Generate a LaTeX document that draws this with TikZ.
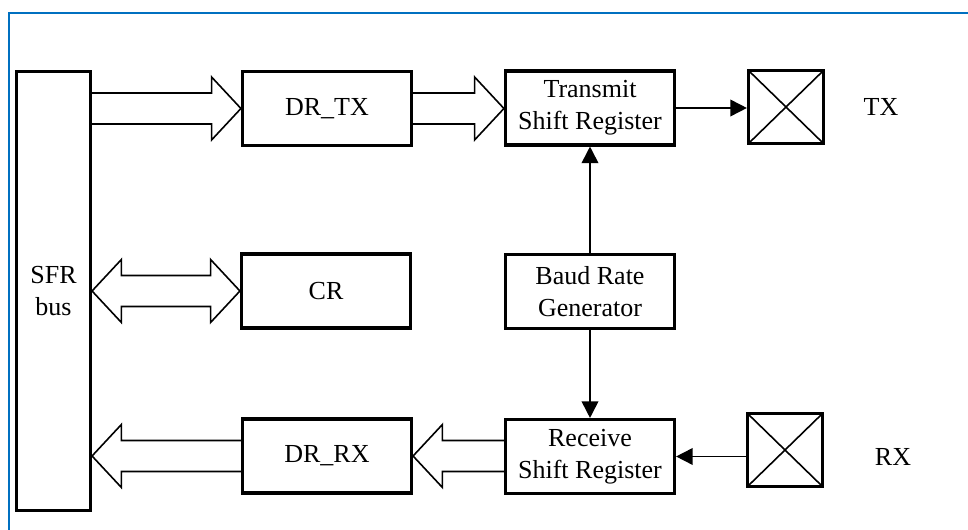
\documentclass[tikz,border=0pt]{standalone}
\usepackage{fontspec}
\setmainfont{Liberation Serif}
\usetikzlibrary{arrows.meta,calc}
\definecolor{frameblue}{RGB}{0,112,192}
\newcommand\sw{11.6pt}
\newcommand\hw{23.6pt}
\newcommand\hl{22pt}
% right-pointing fat arrow: tail #1, tip #2
\newcommand\fatR[2]{\draw[fat] let \p1=(#1), \p2=(#2) in
  (\x1,\y2+\sw) -- (\x2-\hl,\y2+\sw) -- (\x2-\hl,\y2+\hw) -- (\x2,\y2)
  -- (\x2-\hl,\y2-\hw) -- (\x2-\hl,\y2-\sw) -- (\x1,\y2-\sw);}
% left-pointing fat arrow: tail #1, tip #2
\newcommand\fatL[2]{\draw[fat] let \p1=(#1), \p2=(#2) in
  (\x1,\y2+\sw) -- (\x2+\hl,\y2+\sw) -- (\x2+\hl,\y2+\hw) -- (\x2,\y2)
  -- (\x2+\hl,\y2-\hw) -- (\x2+\hl,\y2-\sw) -- (\x1,\y2-\sw);}
% double fat arrow between #1 (left tip) and #2 (right tip)
\newcommand\fatD[2]{\draw[fat] let \p1=(#1), \p2=(#2) in
  (\x1,\y2) -- (\x1+\hl,\y2+\hw) -- (\x1+\hl,\y2+\sw) -- (\x2-\hl,\y2+\sw)
  -- (\x2-\hl,\y2+\hw) -- (\x2,\y2) -- (\x2-\hl,\y2-\hw) -- (\x2-\hl,\y2-\sw)
  -- (\x1+\hl,\y2-\sw) -- (\x1+\hl,\y2-\hw) -- cycle;}
\begin{document}
\begin{tikzpicture}[x=0.75pt,y=-0.75pt,
  box/.style={draw, line width=2.6pt, minimum width=126.5pt, minimum height=55.2pt,
    align=center, inner sep=0pt, font=\fontsize{19.5}{24}\selectfont},
  pad/.style={draw, line width=2.6pt, minimum width=56pt, minimum height=54.5pt,
    inner sep=0pt,
    path picture={\draw[line width=1.2pt]
      (path picture bounding box.north west) -- (path picture bounding box.south east)
      (path picture bounding box.north east) -- (path picture bounding box.south west);}},
  lbl/.style={font=\fontsize{19.5}{24}\selectfont, inner sep=0pt},
  conn/.style={line width=1.3pt, -{Triangle[length=12.5pt,width=12.5pt]}},
  fat/.style={line width=1.2pt, line join=miter},
  frame/.style={draw=frameblue, line width=1.2pt}
]
\useasboundingbox (0,0) rectangle (968,530);
\draw[frame] (9,530) -- (9,13) -- (968,13);

\node[box, minimum width=55.2pt, minimum height=329pt] (sfr) at (53.5,291) {SFR\\bus};
\node[box] (drtx) at (327,108.5) {DR\_TX};
\node[box] (cr) at (326,291) {CR};
\node[box] (drrx) at (327,456) {DR\_RX};
\node[box] (tsr) at (590,108) {Transmit\\Shift Register};
\node[box] (brg) at (590,291.5) {Baud Rate\\Generator};
\node[box] (rsr) at (590,456.5) {Receive\\Shift Register};
\node[pad] (tx) at (786,107) {};
\node[pad] (rx) at (785,450) {};
\node[lbl] (txl) at (881,107) {TX};
\node[lbl] (rxl) at (893,457) {RX};

\fatR{sfr.east |- drtx}{drtx.west}
\fatR{drtx.east}{tsr.west |- drtx}
\fatD{sfr.east |- cr}{cr.west}
\fatL{rsr.west |- drrx}{drrx.east}
\fatL{drrx.west}{sfr.east |- drrx}

\draw[conn] (tsr.east) -- (tsr.east -| tx.west);
\draw[conn] (brg.north) -- (tsr.south);
\draw[conn] (brg.south) -- (rsr.north);
\draw[conn] (rx.west |- rsr.east) -- (rsr.east);
\end{tikzpicture}
\end{document}
